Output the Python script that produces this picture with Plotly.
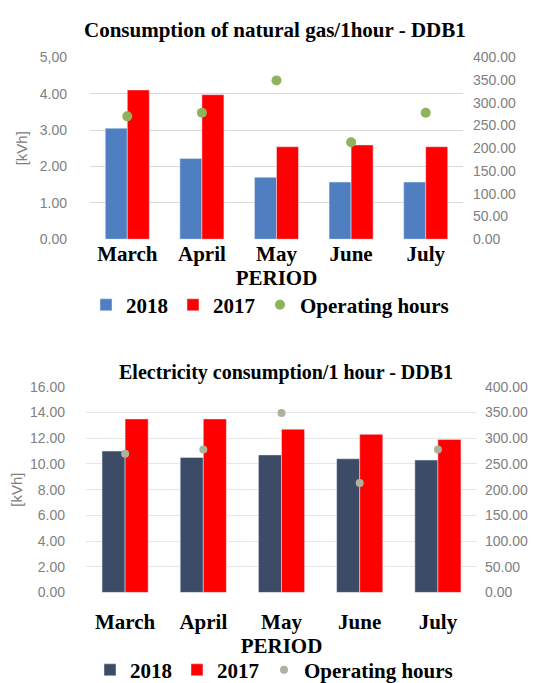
import plotly.graph_objects as go

months = ["March", "April", "May", "June", "July"]
gas_2018 = [3.05, 2.22, 1.70, 1.57, 1.57]
gas_2017 = [4.10, 3.97, 2.54, 2.59, 2.54]
elec_2018 = [11.0, 10.5, 10.7, 10.4, 10.3]
elec_2017 = [13.5, 13.5, 12.7, 12.3, 11.9]
operating_hours = [270, 278, 349, 213, 278]

gas_ticks = [0, 1, 2, 3, 4, 5]
gas_ticktext = ["0.00", "1.00", "2.00", "3.00", "4.00", "5,00"]
elec_ticks = [0, 2, 4, 6, 8, 10, 12, 14, 16]
hours_ticks = [0, 50, 100, 150, 200, 250, 300, 350, 400]

W, H = 550, 683
SERIF = "Liberation Serif"
SANS = "Liberation Sans"
GRAY = "#808080"

fig = go.Figure()

# ---- top chart ----
fig.add_trace(go.Bar(x=months, y=gas_2018, name="2018", marker_color="#4f7fc0",
                     xaxis="x", yaxis="y", legend="legend"))
fig.add_trace(go.Bar(x=months, y=gas_2017, name="2017", marker_color="#ff0000",
                     xaxis="x", yaxis="y", legend="legend"))
fig.add_trace(go.Scatter(x=months, y=operating_hours, name="Operating hours", mode="markers",
                         marker=dict(color="#8fb35a", size=10), xaxis="x", yaxis="y2",
                         legend="legend"))

# ---- bottom chart ----
fig.add_trace(go.Bar(x=months, y=elec_2018, name="2018", marker_color="#3c4b66",
                     xaxis="x2", yaxis="y3", legend="legend2"))
fig.add_trace(go.Bar(x=months, y=elec_2017, name="2017", marker_color="#ff0000",
                     xaxis="x2", yaxis="y3", legend="legend2"))
fig.add_trace(go.Scatter(x=months, y=operating_hours, name="Operating hours", mode="markers",
                         marker=dict(color="#aeb29c", size=8), xaxis="x2", yaxis="y4",
                         legend="legend2"))

cat_font = dict(family=SERIF, size=21, color="black", weight="bold")
tick_font = dict(family=SANS, size=14, color=GRAY)
legend_font = dict(family=SERIF, size=21, color="black", weight="bold")

def ypx(a, b):
    return [1 - b / H, 1 - a / H]

fig.update_layout(
    width=W, height=H,
    margin=dict(l=0, r=0, t=0, b=0),
    paper_bgcolor="white", plot_bgcolor="white",
    barmode="group", bargap=0.41, bargroupgap=0,
    xaxis=dict(domain=[82 / W, 455 / W], anchor="y", tickfont=cat_font,
               showgrid=False, showline=False, ticks="", automargin=False,
               title=dict(text="PERIOD", font=cat_font, standoff=5)),
    yaxis=dict(domain=ypx(50, 235), anchor="x", range=[0, 5], tickvals=gas_ticks,
               ticktext=gas_ticktext, tickfont=tick_font, showgrid=True,
               gridcolor="#d9d9d9", gridwidth=1, zeroline=False, automargin=False,
               ticklabelstandoff=22,
               title=dict(text="[kVh]", font=dict(family=SANS, size=15, color=GRAY), standoff=8)),
    yaxis2=dict(overlaying="y", side="right", anchor="x", range=[0, 400],
                tickvals=hours_ticks, tickformat=".2f", tickfont=tick_font,
                showgrid=False, zeroline=False, automargin=False, ticklabelstandoff=9),
    xaxis2=dict(domain=[78 / W, 469 / W], anchor="y3", tickfont=cat_font,
                showgrid=False, showline=False, ticks="", automargin=False,
                ticklabelstandoff=15,
                title=dict(text="PERIOD", font=cat_font, standoff=4)),
    yaxis3=dict(domain=ypx(385, 594), anchor="x2", range=[0, 16], tickvals=elec_ticks,
                tickformat=".2f", tickfont=tick_font, showgrid=True,
                gridcolor="#e6e6e6", gridwidth=1, zeroline=False, automargin=False,
                ticklabelstandoff=20,
                title=dict(text="[kVh]", font=dict(family=SANS, size=15, color=GRAY), standoff=6)),
    yaxis4=dict(overlaying="y3", side="right", anchor="x2", range=[0, 400],
                tickvals=hours_ticks, tickformat=".2f", tickfont=tick_font,
                showgrid=False, zeroline=False, automargin=False, ticklabelstandoff=7),
    legend=dict(orientation="h", x=262 / W, xanchor="center", y=1 - 302 / H, yanchor="middle",
                font=legend_font, itemwidth=30, bgcolor="rgba(0,0,0,0)", traceorder="normal"),
    legend2=dict(orientation="h", x=266 / W, xanchor="center", y=1 - 673 / H, yanchor="middle",
                 font=legend_font, itemwidth=30, bgcolor="rgba(0,0,0,0)", traceorder="normal"),
    annotations=[
        dict(text="Consumption of natural gas/1hour - DDB1", xref="paper", yref="paper",
             x=267 / W, y=1 - 22 / H, xanchor="center", yanchor="middle", showarrow=False,
             font=dict(family=SERIF, size=21, color="black", weight="bold")),
        dict(text="Electricity consumption/1 hour - DDB1", xref="paper", yref="paper",
             x=278 / W, y=1 - 370 / H, xanchor="center", yanchor="middle", showarrow=False,
             font=dict(family=SERIF, size=20, color="black", weight="bold")),
    ],
)

fig.write_html("out.html")
